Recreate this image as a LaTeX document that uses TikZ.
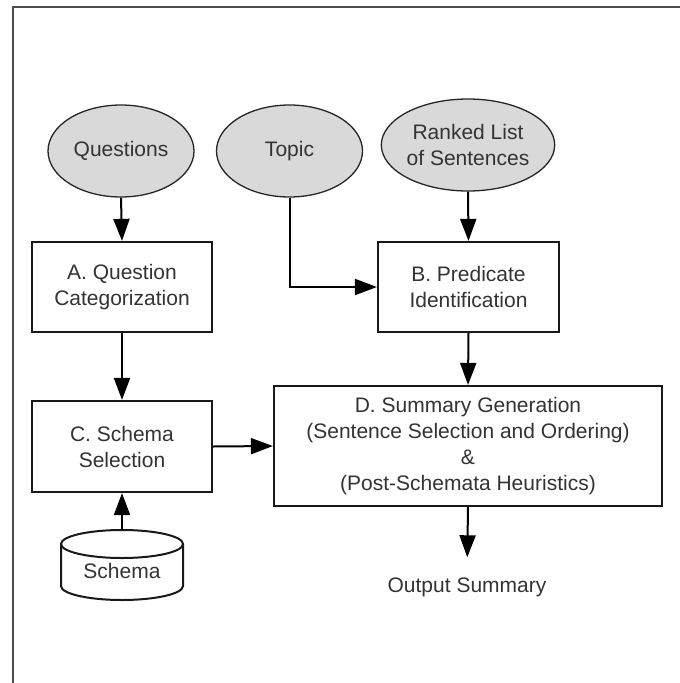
\documentclass[tikz,border=0pt]{standalone}
\usepackage{fontspec}
\setmainfont{Liberation Sans}
\usetikzlibrary{arrows.meta,shapes.geometric}

\definecolor{inkgray}{HTML}{333333}
\definecolor{ovalfill}{HTML}{D9D9D9}

\tikzset{
  base/.style={font=\fontsize{21pt}{26pt}\selectfont, text=inkgray, align=center, inner sep=0pt},
  oval/.style={base, ellipse, draw=black!85, line width=1.3pt, fill=ovalfill},
  procbox/.style={base, rectangle, draw=black!90, line width=2.2pt},
  flow/.style={line width=2pt, draw=black, -{Triangle[length=22pt,width=16pt]}},
  frameline/.style={line width=2pt, draw=black!70}
}

\begin{document}
\begin{tikzpicture}[x=1pt,y=-1pt]
  \useasboundingbox (0,0) rectangle (680,683);

  % outer frame (left and top edges)
  \draw[frameline] (13,683) -- (13,6.5) -- (680,6.5);

  % inputs
  \node[oval, minimum width=146pt, minimum height=92pt] (Q) at (121,151) {Questions};
  \node[oval, minimum width=146pt, minimum height=92pt] (T) at (289.5,151) {Topic};
  \node[oval, minimum width=164pt, minimum height=92pt] (R) at (468,145) {Ranked List\\of Sentences};

  % processing stages
  \node[procbox, minimum width=180pt, minimum height=90pt] (A) at (122,287) {A. Question\\Categorization};
  \node[procbox, minimum width=181pt, minimum height=90pt] (B) at (468.5,287) {B. Predicate\\Identification};
  \node[procbox, minimum width=180pt, minimum height=91pt] (C) at (122,446.5) {C. Schema\\Selection};
  \node[procbox, minimum width=388pt, minimum height=120pt] (D) at (468,446)
    {D. Summary Generation\\(Sentence Selection and Ordering)\\\&\\(Post-Schemata Heuristics)};

  % schema store (cylinder)
  \node[base, minimum width=122pt, minimum height=70pt] (S) at (122,565) {};
  \draw[line width=2pt, draw=black!90]
    (61,544) -- (61,586) arc[start angle=180, end angle=360, x radius=61pt, y radius=14pt]
    -- (183,544);
  \draw[line width=2pt, draw=black!90] (122,544) ellipse[x radius=61pt, y radius=14pt];
  \node[base] at (122,571) {Schema};

  % result
  \node[base] (O) at (467,587) {Output Summary};

  % connectors
  \draw[flow] (Q.south) -- (A.north);
  \draw[flow] (T.south) |- (B.west);
  \draw[flow] (R.south) -- (B.north);
  \draw[flow] (A.south) -- (C.north);
  \draw[flow] (B.south) -- (D.north);
  \draw[flow] (C.east) -- (D.west);
  \draw[flow] (S.north) -- (C.south);
  \draw[flow, shorten >=20pt] (D.south) -- (O.north);
\end{tikzpicture}
\end{document}
